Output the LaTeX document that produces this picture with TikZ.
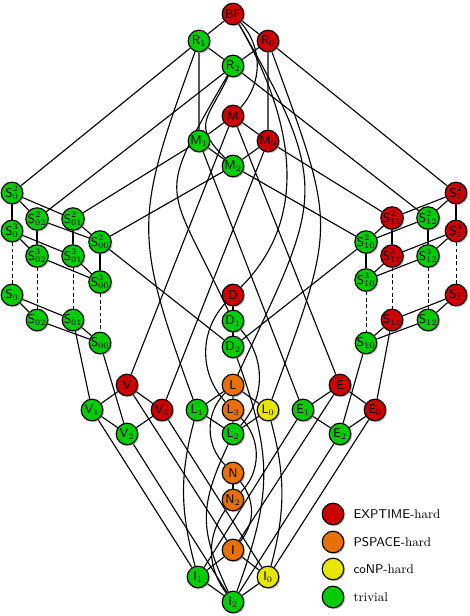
\documentclass[tikz,border=0pt]{standalone}
\usetikzlibrary{shadows,backgrounds,positioning}
\definecolor{cexp}{RGB}{204,0,0}
\definecolor{cpsp}{RGB}{232,112,0}
\definecolor{cconp}{RGB}{230,230,0}
\definecolor{ctriv}{RGB}{0,204,0}
\begin{document}
\begin{tikzpicture}[x=0.025cm, y=0.025cm,
	cl/.style={circle, draw, line width=0.8pt, minimum size=0.54cm, inner sep=0pt, font=\small, drop shadow={shadow xshift=1pt, shadow yshift=-1pt, opacity=0.45}},
	hexp/.style={cl, fill=cexp},
	hpsp/.style={cl, fill=cpsp},
	hconp/.style={cl, fill=cconp},
	triv/.style={cl, fill=ctriv},
	ln/.style={line width=0.8pt},
	dln/.style={line width=0.7pt, dash pattern=on 2.5pt off 2pt}]
	
	\useasboundingbox (0,0) rectangle (469,-616);
	
	\node[hexp] (BF) at (233,-14) {$\mathsf{BF}$};
	\node[triv] (R1) at (199,-41) {$\mathsf{R}_1$};
	\node[hexp] (R0) at (268,-41) {$\mathsf{R}_0$};
	\node[triv] (R2) at (233,-66) {$\mathsf{R}_2$};
	\node[hexp] (M) at (233,-116) {$\mathsf{M}$};
	\node[triv] (M1) at (199,-141) {$\mathsf{M}_1$};
	\node[hexp] (M0) at (268,-141) {$\mathsf{M}_0$};
	\node[triv] (M2) at (233,-166) {$\mathsf{M}_2$};
	
	\node[triv] (S0-2) at (12,-193) {$\mathsf{S}_0^2$};
	\node[triv] (S02-2) at (37,-219) {$\mathsf{S}_{02}^2$};
	\node[triv] (S01-2) at (73,-219) {$\mathsf{S}_{01}^2$};
	\node[triv] (S00-2) at (100,-242) {$\mathsf{S}_{00}^2$};
	\node[triv] (S0-3) at (12,-231) {$\mathsf{S}_0^3$};
	\node[triv] (S02-3) at (37,-256) {$\mathsf{S}_{02}^3$};
	\node[triv] (S01-3) at (73,-256) {$\mathsf{S}_{01}^3$};
	\node[triv] (S00-3) at (100,-282) {$\mathsf{S}_{00}^3$};
	\node[triv] (S0) at (12,-295) {$\mathsf{S}_0$};
	\node[triv] (S02) at (37,-320) {$\mathsf{S}_{02}$};
	\node[triv] (S01) at (73,-320) {$\mathsf{S}_{01}$};
	\node[triv] (S00) at (100,-343) {$\mathsf{S}_{00}$};
	
	\node[hexp] (S1-2) at (456,-193) {$\mathsf{S}_1^2$};
	\node[hexp] (S11-2) at (392,-218) {$\mathsf{S}_{11}^2$};
	\node[triv] (S12-2) at (428,-218) {$\mathsf{S}_{12}^2$};
	\node[triv] (S10-2) at (366,-242) {$\mathsf{S}_{10}^2$};
	\node[hexp] (S1-3) at (456,-231) {$\mathsf{S}_1^3$};
	\node[hexp] (S11-3) at (392,-256) {$\mathsf{S}_{11}^3$};
	\node[triv] (S12-3) at (428,-256) {$\mathsf{S}_{12}^3$};
	\node[triv] (S10-3) at (366,-280) {$\mathsf{S}_{10}^3$};
	\node[hexp] (S1) at (456,-295) {$\mathsf{S}_1$};
	\node[hexp] (S11) at (392,-320) {$\mathsf{S}_{11}$};
	\node[triv] (S12) at (428,-320) {$\mathsf{S}_{12}$};
	\node[triv] (S10) at (366,-343) {$\mathsf{S}_{10}$};
	
	\node[hexp] (D) at (233,-295) {$\mathsf{D}$};
	\node[triv] (D1) at (233,-321) {$\mathsf{D}_1$};
	\node[triv] (D2) at (233,-347) {$\mathsf{D}_2$};
	
	\node[hexp] (V) at (127,-385) {$\mathsf{V}$};
	\node[triv] (V1) at (92,-410) {$\mathsf{V}_1$};
	\node[hexp] (V0) at (162,-410) {$\mathsf{V}_0$};
	\node[triv] (V2) at (127,-434) {$\mathsf{V}_2$};
	\node[hpsp] (L) at (233,-385) {$\mathsf{L}$};
	\node[triv] (L1) at (197,-410) {$\mathsf{L}_1$};
	\node[hpsp] (L3) at (233,-410) {$\mathsf{L}_3$};
	\node[hconp] (L0) at (268,-410) {$\mathsf{L}_0$};
	\node[triv] (L2) at (233,-434) {$\mathsf{L}_2$};
	\node[hexp] (E) at (340,-385) {$\mathsf{E}$};
	\node[triv] (E1) at (303,-410) {$\mathsf{E}_1$};
	\node[hexp] (E0) at (375,-410) {$\mathsf{E}_0$};
	\node[triv] (E2) at (340,-434) {$\mathsf{E}_2$};
	
	\node[hpsp] (N) at (233,-473) {$\mathsf{N}$};
	\node[hpsp] (N2) at (233,-500) {$\mathsf{N}_2$};
	\node[hpsp] (I) at (233,-550) {$\mathsf{I}$};
	\node[triv] (I1) at (198,-577) {$\mathsf{I}_1$};
	\node[hconp] (I0) at (268,-577) {$\mathsf{I}_0$};
	\node[triv] (I2) at (233,-602) {$\mathsf{I}_2$};
	
	\node[hexp] (lexp) at (333,-514) {};
	\node[hpsp] (lpsp) at (333,-542) {};
	\node[hconp] (lconp) at (333,-569) {};
	\node[triv] (ltriv) at (333,-597) {};
	\node[right=3pt of lexp, font=\small] (texp) {\textsf{EXPTIME}-hard};
	\node[right=3pt of lpsp, font=\small] (tpsp) {\textsf{PSPACE}-hard};
	\node[right=3pt of lconp, font=\small] (tconp) {\textsf{coNP}-hard};
	\node[right=3pt of ltriv, font=\small] (ttriv) {trivial};
	
	\begin{pgfonlayer}{background}
	\draw[ln] (BF) -- (R1) (BF) -- (R0) (R1) -- (R2) (R0) -- (R2);
	\draw[ln] (R1) -- (M1) (R0) -- (M0) (R1) -- (S0-2) (R0) -- (S1-2);
	\draw[ln] (R2) -- (S02-2) (R2) -- (S12-2);
	\draw[ln] (M) -- (M1) (M) -- (M0) (M1) -- (M2) (M0) -- (M2);
	\draw[ln] (M1) -- (S01-2) (M0) -- (S11-2) (M2) -- (S00-2) (M2) -- (S10-2);
	\draw[ln] (M) -- (V) (M) -- (E) (M1) -- (E1) (M0) -- (V0);
	
	\draw[ln] (BF) to[out=-48,in=48] (M);
	\draw[ln] (BF) to[out=-60,in=45] (D);
	\draw[ln] (BF) to[out=-60,in=65,looseness=1.4] (L);
	\draw[ln] (R0) to[out=-70,in=70,looseness=1.4] (L0);
	\draw[ln] (R1) to[out=-110,in=110,looseness=1.3] (L1);
	\draw[ln] (R2) to[out=-115,in=135,looseness=1.5] (M2);
	\draw[ln] (R2) to[out=-120,in=115,looseness=1.6] (D1);
	
	\draw[ln] (S0-2) -- (S02-2) (S0-2) -- (S01-2) (S02-2) -- (S00-2) (S01-2) -- (S00-2);
	\draw[ln] (S0-3) -- (S02-3) (S0-3) -- (S01-3) (S02-3) -- (S00-3) (S01-3) -- (S00-3);
	\draw[ln] (S0) -- (S02) (S0) -- (S01) (S02) -- (S00) (S01) -- (S00);
	\draw[ln] (S0-2) -- (S0-3) (S02-2) -- (S02-3) (S01-2) -- (S01-3) (S00-2) -- (S00-3);
	\draw[dln] (S0-3) -- (S0) (S02-3) -- (S02) (S01-3) -- (S01) (S00-3) -- (S00);
	
	\draw[ln] (S1-2) -- (S12-2) (S1-2) -- (S11-2) (S12-2) -- (S10-2) (S11-2) -- (S10-2);
	\draw[ln] (S1-3) -- (S12-3) (S1-3) -- (S11-3) (S12-3) -- (S10-3) (S11-3) -- (S10-3);
	\draw[ln] (S1) -- (S12) (S1) -- (S11) (S12) -- (S10) (S11) -- (S10);
	\draw[ln] (S1-2) -- (S1-3) (S12-2) -- (S12-3) (S11-2) -- (S11-3) (S10-2) -- (S10-3);
	\draw[dln] (S1-3) -- (S1) (S12-3) -- (S12) (S11-3) -- (S11) (S10-3) -- (S10);
	
	\draw[ln] (S00-2) -- (D2) (S10-2) -- (D2) (S01) -- (V1) (S00) -- (V2) (S11) -- (E0) (S10) -- (E2);
	
	\draw[ln] (D) -- (D1) (D1) -- (D2);
	\draw[ln] (D) to[out=-133,in=133] (L3);
	\draw[ln] (D1) to[out=-48,in=48] (L2);
	\draw[ln] (D2) to[out=-70,in=70,looseness=1.15] (I2);
	
	\draw[ln] (V) -- (V1) (V) -- (V0) (V1) -- (V2) (V0) -- (V2);
	\draw[ln] (E) -- (E1) (E) -- (E0) (E1) -- (E2) (E0) -- (E2);
	\draw[ln] (L) -- (L1) (L) -- (L0) (L) -- (L3) (L3) -- (L2) (L1) -- (L2) (L0) -- (L2);
	
	\draw[ln] (L) to[out=-135,in=135] (N);
	\draw[ln] (L3) to[out=-45,in=45] (N2);
	\draw[ln] (L2) to[out=-115,in=115,looseness=1.2] (I2);
	\draw[ln] (N) -- (N2);
	\draw[ln] (N) to[out=-50,in=50] (I);
	\draw[ln] (N2) to[out=-127,in=127] (I2);
	\draw[ln] (L1) to[out=-105,in=105] (I1);
	\draw[ln] (L0) to[out=-75,in=75] (I0);
	
	\draw[ln] (V) -- (I) (E) -- (I) (V1) -- (I1) (V0) -- (I0) (E1) -- (I1) (E0) -- (I0);
	\draw[ln] (V2) -- (I2) (E2) -- (I2);
	\draw[ln] (I) -- (I1) (I) -- (I0) (I1) -- (I2) (I0) -- (I2);
	\end{pgfonlayer}
	
\end{tikzpicture}
\end{document}
